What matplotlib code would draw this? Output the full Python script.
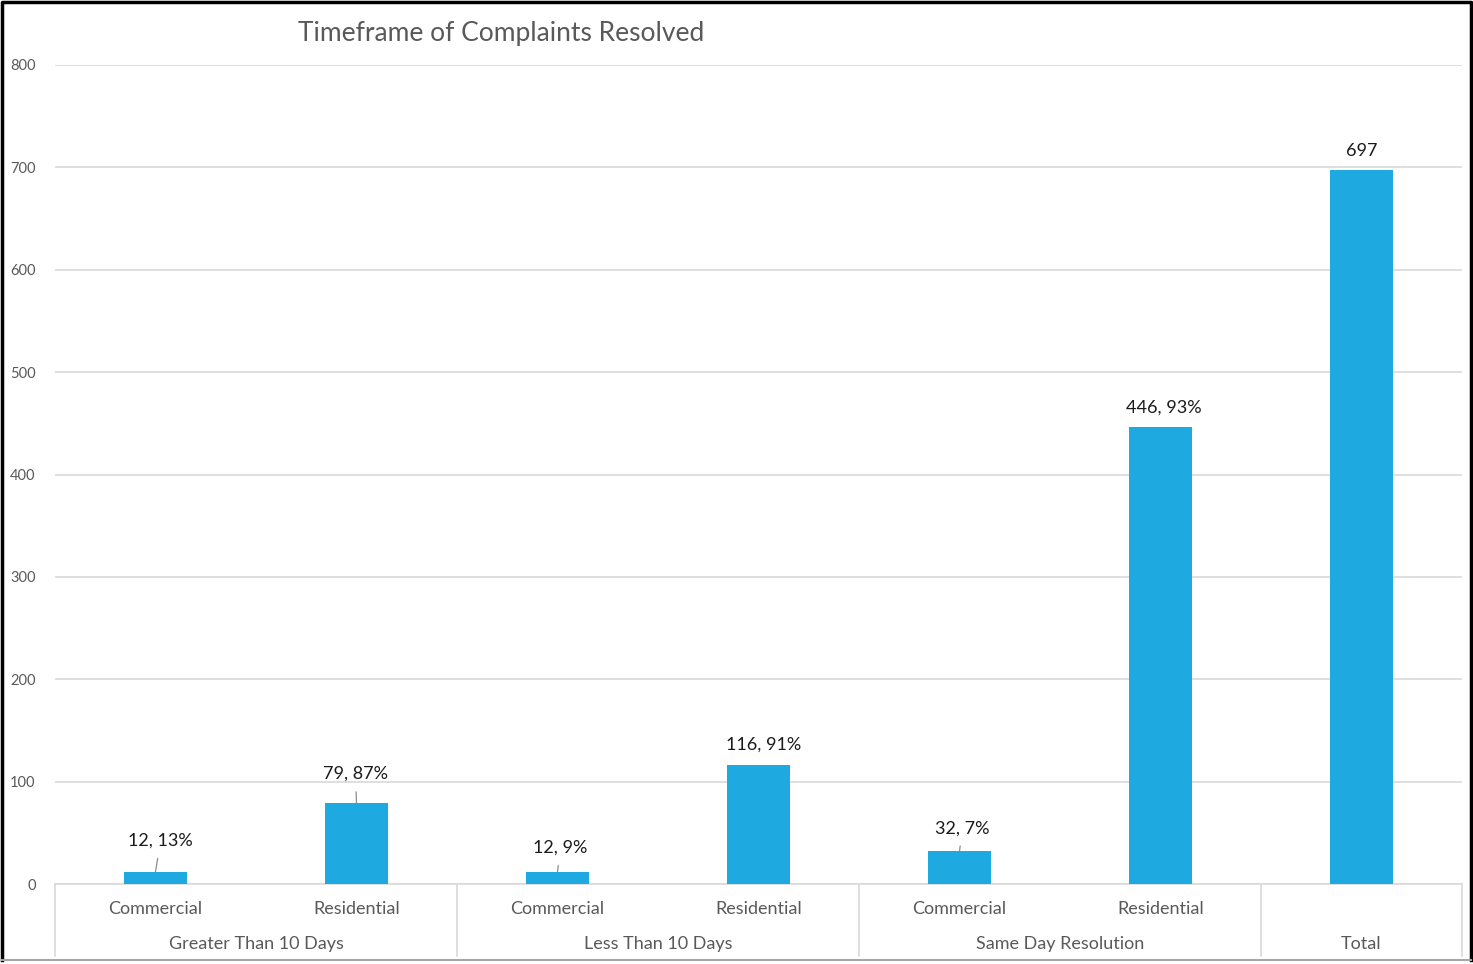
import matplotlib.pyplot as plt

plt.rcParams['font.family'] = ['Lato', 'DejaVu Sans']

# --- data ---
sub_labels = ['Commercial', 'Residential', 'Commercial', 'Residential',
              'Commercial', 'Residential', '']
group_labels = ['Greater Than 10 Days', 'Less Than 10 Days', 'Same Day Resolution', 'Total']
group_sizes = [2, 2, 2, 1]
counts = [12, 79, 12, 116, 32, 446, 697]
shares = ['13%', '87%', '9%', '91%', '7%', '93%', None]
# labels that are tied back to the bar with a short leader
has_leader = [True, True, True, False, True, False, False]
label_dx = [5, -1, 3, 5, 3, 3, 0]    # horizontal nudge of the label, pixels
label_dy = [31, 29, 24, 21, 23, 20, 19]  # height of label centre above bar, pixels

bar_color = '#1EA9E1'
grid_color = '#d9d9d9'
text_color = '#595959'

fig = plt.figure(figsize=(14.73, 9.64), dpi=100)
ax = fig.add_axes([55 / 1473, 1 - 884 / 964, (1462 - 55) / 1473, (884 - 65) / 964])

x = list(range(len(counts)))
ax.bar(x, counts, width=0.31, color=bar_color, zorder=3)

ax.set_xlim(-0.5, len(counts) - 0.5)
ax.set_ylim(0, 800)
ax.set_yticks(range(0, 801, 100))
ax.yaxis.grid(True, color=grid_color, lw=1.2, zorder=0)
ax.tick_params(axis='y', length=0, pad=14, labelsize=10.5, labelcolor=text_color)
ax.set_xticks([])
for s in ['top', 'right', 'left']:
    ax.spines[s].set_visible(False)
ax.spines['bottom'].set_color(grid_color)
ax.spines['bottom'].set_linewidth(1.2)

# data labels
for xi, v, pct, lead, dx, dy in zip(x, counts, shares, has_leader, label_dx, label_dy):
    txt = f'{v}, {pct}' if pct else f'{v}'
    arrow = None
    if lead:
        arrow = dict(arrowstyle='-', color='#8c8c8c', lw=0.9, shrinkA=5, shrinkB=0)
    ax.annotate(txt, xy=(xi, v), xytext=(dx, dy), textcoords='offset pixels',
                ha='center', va='center', fontsize=13, color='#1a1a1a',
                arrowprops=arrow)

# two-level category axis
xt = ax.get_xaxis_transform()
for xi, lab in zip(x, sub_labels):
    if lab:
        ax.text(xi, -0.030, lab, transform=xt, ha='center', va='center',
                fontsize=13, color=text_color)

start = 0
edges = [-0.5]
for name, n in zip(group_labels, group_sizes):
    mid = start + (n - 1) / 2
    ax.text(mid, -0.0728, name, transform=xt, ha='center', va='center',
            fontsize=13, color=text_color)
    start += n
    edges.append(start - 0.5)
for e in edges:
    ax.plot([e, e], [0, -0.088], transform=xt, color=grid_color, lw=1.2,
            clip_on=False)

fig.text(501 / 1473, 1 - 34 / 964, 'Timeframe of Complaints Resolved',
         ha='center', va='center', fontsize=19, color=text_color)

# outer frame: black on three sides, grey rule along the bottom
fig.add_artist(plt.Line2D([0.0015, 0.0015, 0.9985, 0.9985], [0.004, 0.998, 0.998, 0.004],
                          transform=fig.transFigure, color='black', lw=2.5))
fig.add_artist(plt.Line2D([0.0015, 0.9985], [0.004, 0.004],
                          transform=fig.transFigure, color='#a6a6a6', lw=1.5))

fig.savefig('out.png', dpi=100)
